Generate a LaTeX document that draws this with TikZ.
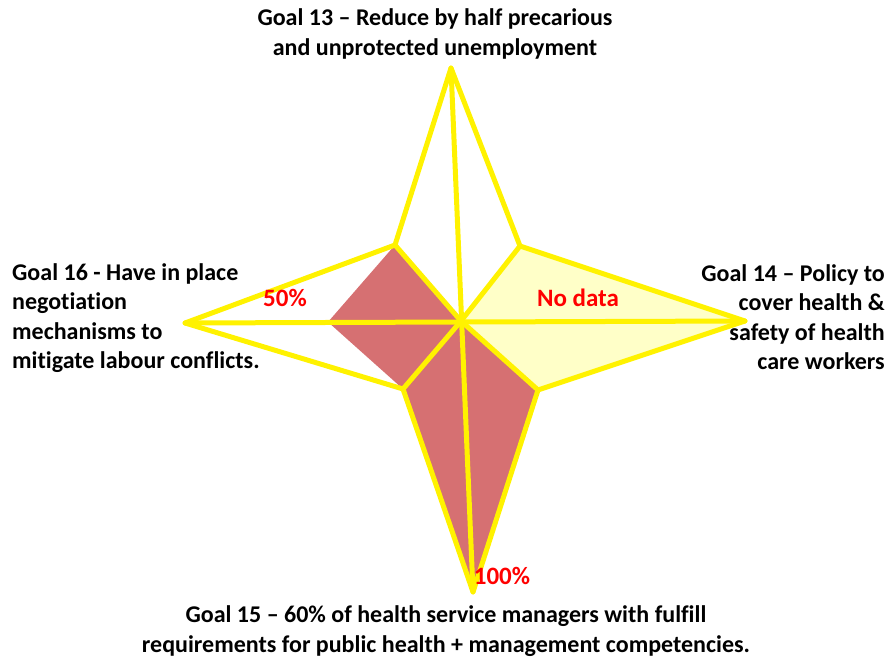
\documentclass[tikz,border=0pt]{standalone}
\usepackage{fontspec}
\setmainfont[Ligatures=NoCommon]{Carlito}
\definecolor{starline}{RGB}{255,242,0}
\definecolor{redfill}{RGB}{214,112,114}
\definecolor{paleyellow}{RGB}{255,255,200}
\definecolor{labelred}{RGB}{255,0,0}
\tikzset{
  starstroke/.style={draw=starline, line width=5pt, line join=round, line cap=round},
  goaltext/.style={font=\fontsize{24}{29.5}\selectfont\bfseries, inner sep=0pt, text=black},
  valtext/.style={font=\fontsize{25}{28}\selectfont\bfseries, inner sep=0pt, text=labelred},
}
\begin{document}
\begin{tikzpicture}[x=1pt,y=-1pt]
\useasboundingbox (0,0) rectangle (893,660);
% star geometry
\coordinate (C) at (461,321);
\coordinate (T) at (451,68);
\coordinate (R) at (745,321);
\coordinate (B) at (473,592);
\coordinate (L) at (185,323);
\coordinate (TLi) at (395,245);
\coordinate (TRi) at (520,246);
\coordinate (BLi) at (403,389);
\coordinate (BRi) at (538,390);
\coordinate (H) at (328,322);
% fills
\fill[redfill] (C) -- (TLi) -- (H) -- (BLi) -- cycle;
\fill[redfill] (C) -- (BLi) -- (B) -- (BRi) -- cycle;
\fill[paleyellow] (C) -- (TRi) -- (R) -- (BRi) -- cycle;
% lines
\draw[starstroke] (T) -- (TRi) -- (R) -- (BRi) -- (B) -- (BLi) -- (L) -- (TLi) -- cycle;
\draw[starstroke] (T) -- (B);
\draw[starstroke] (L) -- (R);
\draw[starstroke] (TLi) -- (C) -- (BRi);
\draw[starstroke] (TRi) -- (C) -- (BLi);
% labels
\node[goaltext, align=center] (g13) at (435,34) {Goal 13 -- Reduce by half precarious\\and unprotected unemployment};
\node[goaltext, align=right, anchor=east] (g14) at (885,317) {Goal 14 -- Policy to\\cover health \&\\safety of health\\care workers};
\node[goaltext, align=center] (g15) at (446,631) {Goal 15 -- 60\% of health service managers with fulfill\\requirements for public health + management competencies.};
\node[goaltext, align=left, anchor=west] (g16) at (12,318) {Goal 16 - Have in place\\negotiation\\mechanisms to\\mitigate labour conflicts.};
\node[valtext] (v16) at (285,298) {50\%};
\node[valtext] (v14) at (578,298) {No data};
\node[valtext] (v15) at (502,576) {100\%};
\end{tikzpicture}
\end{document}
